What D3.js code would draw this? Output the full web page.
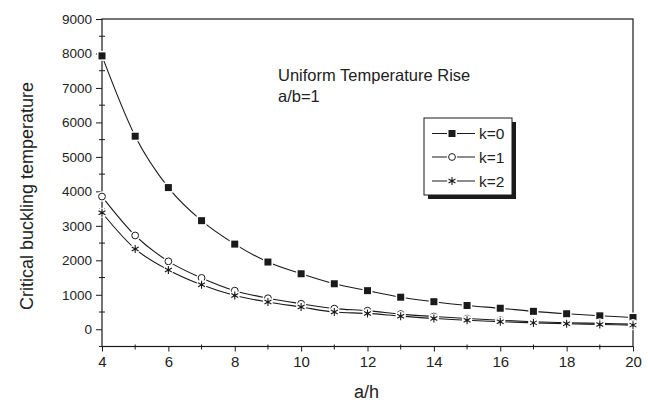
<!DOCTYPE html>
<html><head><meta charset="utf-8">
<script src="https://cdn.jsdelivr.net/npm/d3@7"></script>
<style>body{margin:0;background:#fff}svg{display:block;font-family:"Liberation Sans",Arial,sans-serif}</style>
</head><body><svg id="c" width="648" height="402"></svg>
<script>
const xValues = [4,5,6,7,8,9,10,11,12,13,14,15,16,17,18,19,20];
const k0 = [7930,5600,4110,3150,2470,1950,1610,1320,1120,930,800,690,610,520,450,390,340];
const k1 = [3850,2720,1970,1490,1120,900,740,600,540,440,370,310,260,220,190,170,150];
const k2 = [3380,2330,1720,1290,980,790,645,500,460,380,310,260,220,185,160,140,120];
const seriesNames = ["k=0","k=1","k=2"];
const xTicks = [4,6,8,10,12,14,16,18,20];
const yTicks = [0,1000,2000,3000,4000,5000,6000,7000,8000,9000];

const svg = d3.select("#c");
const L=102, R=633, T=19, B=346.5;
const x = d3.scaleLinear().domain([4,20]).range([L,R]);
const y = d3.scaleLinear().domain([-500,9000]).range([B,T]);
const ink = "#1a1a1a";

// frame
svg.append("rect").attr("x",L).attr("y",T).attr("width",R-L).attr("height",B-T)
  .attr("fill","none").attr("stroke",ink).attr("stroke-width",1.2);

// axes
const yAxis = d3.axisLeft(y).tickValues(yTicks).tickFormat(d3.format("d")).tickSize(6).tickPadding(4);
const gy = svg.append("g").attr("transform",`translate(${L},0)`).call(yAxis);
gy.select(".domain").remove();
gy.selectAll("line").attr("stroke",ink);
gy.selectAll("text").attr("font-size",13.5).attr("fill","#222").attr("font-family","Liberation Sans, Arial, sans-serif");
const yMinor = d3.range(-500,9001,1000);
svg.append("g").selectAll("line").data(yMinor).join("line")
  .attr("x1",L-3).attr("x2",L+3).attr("y1",d=>y(d)).attr("y2",d=>y(d)).attr("stroke",ink);

const xAxis = d3.axisBottom(x).tickValues(xTicks).tickFormat(d3.format("d")).tickSize(5).tickPadding(5);
const gx = svg.append("g").attr("transform",`translate(0,${B})`).call(xAxis);
gx.select(".domain").remove();
gx.selectAll("line").attr("stroke",ink);
gx.selectAll("text").attr("font-size",15).attr("fill","#222").attr("font-family","Liberation Sans, Arial, sans-serif");
const xMinor = d3.range(5,20,2);
svg.append("g").selectAll("line").data(xMinor).join("line")
  .attr("x1",d=>x(d)).attr("x2",d=>x(d)).attr("y1",B-2).attr("y2",B+3).attr("stroke",ink);

// axis titles
svg.append("text").attr("x",(L+R)/2-1).attr("y",398).attr("text-anchor","middle")
  .attr("font-size",18).attr("fill","#222").text("a/h");
svg.append("text").attr("transform","translate(33,196) rotate(-90)").attr("text-anchor","middle")
  .attr("font-size",18).attr("fill","#222").text("Critical buckling temperature");

// annotation
svg.append("text").attr("x",278).attr("y",81).attr("font-size",16.5).attr("fill","#222").text("Uniform Temperature Rise");
svg.append("text").attr("x",278).attr("y",102).attr("font-size",16.5).attr("fill","#222").text("a/b=1");

// markers
function starPath(r){
  const a=r*Math.cos(Math.PI/6), b=r*Math.sin(Math.PI/6);
  return `M0,${-r}L0,${r}M${-a},${-b}L${a},${b}M${-a},${b}L${a},${-b}`;
}
function drawMarker(g, type){
  if(type===0){
    g.append("rect").attr("x",-5).attr("y",-5).attr("width",10).attr("height",10).attr("fill","#fff");
    g.append("rect").attr("x",-3.5).attr("y",-3.5).attr("width",7).attr("height",7).attr("fill",ink);
  } else if(type===1){
    g.append("circle").attr("r",5.2).attr("fill","#fff");
    g.append("circle").attr("r",3.4).attr("fill","#fff").attr("stroke",ink).attr("stroke-width",1);
  } else {
    g.append("circle").attr("r",5).attr("fill","#fff");
    g.append("path").attr("d",starPath(4)).attr("stroke",ink).attr("stroke-width",1.1).attr("fill","none");
    g.append("circle").attr("r",1.3).attr("fill",ink);
  }
}
const series = [k0,k1,k2];
const line = d3.line().curve(d3.curveMonotoneX).x(d=>x(d[0])).y(d=>y(d[1]));
series.forEach((vals,si)=>{
  const pts = xValues.map((xv,i)=>[xv,vals[i]]);
  svg.append("path").attr("d",line(pts)).attr("fill","none").attr("stroke",ink).attr("stroke-width",1.1);
});
series.forEach((vals,si)=>{
  xValues.forEach((xv,i)=>{
    const g = svg.append("g").attr("transform",`translate(${x(xv)},${y(vals[i])})`);
    drawMarker(g, si);
  });
});

// legend
const lg = svg.append("g");
lg.append("rect").attr("x",428).attr("y",122).attr("width",88).attr("height",77).attr("fill",ink);
lg.append("rect").attr("x",424).attr("y",118).attr("width",88).attr("height",77).attr("fill","#fff").attr("stroke",ink).attr("stroke-width",1);
const legY = [133.5,157,181];
seriesNames.forEach((nm,i)=>{
  lg.append("line").attr("x1",432).attr("x2",475).attr("y1",legY[i]).attr("y2",legY[i]).attr("stroke",ink).attr("stroke-width",1.1);
  const g = lg.append("g").attr("transform",`translate(452,${legY[i]})`);
  drawMarker(g,i);
  lg.append("text").attr("x",479).attr("y",legY[i]+5.5).attr("font-size",15.5).attr("fill","#222").text(nm);
});
</script></body></html>
